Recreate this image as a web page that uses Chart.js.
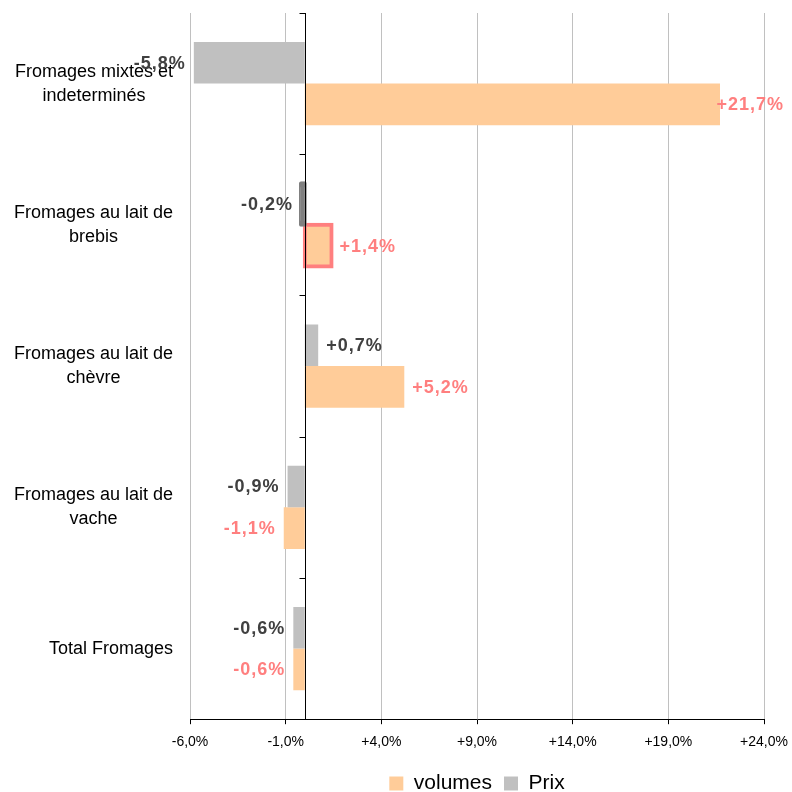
<!DOCTYPE html>
<html>
<head>
<meta charset="utf-8">
<script src="https://cdn.jsdelivr.net/npm/chart.js@4.4.1/dist/chart.umd.min.js"></script>
<style>
  html, body { margin: 0; padding: 0; background: #fff; }
  #wrap { width: 792px; height: 792px; }
</style>
</head>
<body>
<div id="wrap"><canvas id="chart"></canvas></div>
<script>
// ── DATA ─────────────────────────────────────────────
const categories = [
  ['Fromages mixtes et', 'indeterminés'],
  ['Fromages au lait de', 'brebis'],
  ['Fromages au lait de', 'chèvre'],
  ['Fromages au lait de', 'vache'],
  ['Total Fromages']
]
const prix = [-5.8, -0.2, 0.7, -0.9, -0.6]
const volumes = [21.7, 1.4, 5.2, -1.1, -0.6]
const xTicks = [-6, -1, 4, 9, 14, 19, 24]

const GREY = '#c0c0c0'
const DARK_GREY = '#808080'
const ORANGE = '#ffcc99'
const PINK = '#ff7f7f'
const LABEL_DARK = '#404040'

const fmt = v => (v > 0 ? '+' : '') + v.toFixed(1).replace('.', ',') + '%'

Chart.defaults.font.family = '"Liberation Sans", Arial, sans-serif'
Chart.defaults.color = '#000'

// zero line, category labels and value labels
const overlay = {
  id: 'overlay',
  afterDatasetsDraw(chart) {
    const { ctx, chartArea, scales: { x, y } } = chart
    const x0 = Math.round(x.getPixelForValue(0)) + 0.5
    ctx.save()
    ctx.strokeStyle = '#000'
    ctx.lineWidth = 1
    ctx.beginPath()
    ctx.moveTo(x0, chartArea.top)
    ctx.lineTo(x0, chartArea.bottom)
    for (let i = 0; i <= categories.length; i++) {
      const yy = Math.round(y.getPixelForValue(i - 0.5)) + 0.5
      ctx.moveTo(x0 - 6, yy)
      ctx.lineTo(x0, yy)
    }
    ctx.stroke()

    // category labels: block right-aligned, lines centred inside it
    ctx.font = '18px "Liberation Sans", Arial, sans-serif'
    ctx.fillStyle = '#000'
    ctx.textAlign = 'center'
    ctx.textBaseline = 'middle'
    const right = chartArea.left - 17
    categories.forEach((lines, i) => {
      const yc = y.getPixelForValue(i)
      const w = Math.max(...lines.map(l => ctx.measureText(l).width))
      lines.forEach((l, j) => {
        ctx.fillText(l, right - w / 2, yc + (j - (lines.length - 1) / 2) * 24)
      })
    })

    // value labels
    ctx.font = 'bold 18px "Liberation Sans", Arial, sans-serif'
    ctx.letterSpacing = '1px'
    ctx.textAlign = 'left'
    chart.data.datasets.forEach((ds, di) => {
      const meta = chart.getDatasetMeta(di)
      ctx.fillStyle = di === 0 ? LABEL_DARK : PINK
      meta.data.forEach((bar, i) => {
        const v = ds.data[i]
        const txt = fmt(v)
        const w = ctx.measureText(txt).width
        let left = v >= 0 ? bar.x + 8 : bar.x - 8 - w
        if (left + w > chart.width - 8) left = chart.width - 8 - w
        ctx.fillText(txt, left, bar.y + 1)
      })
    })
    ctx.restore()
  }
}

new Chart(document.getElementById('chart').getContext('2d'), {
  type: 'bar',
  data: {
    labels: categories,
    datasets: [{
      label: 'Prix',
      data: prix,
      backgroundColor: c => c.dataIndex === 1 ? DARK_GREY : GREY,
      borderColor: DARK_GREY,
      borderWidth: c => c.dataIndex === 1 ? 2 : 0,
      borderRadius: c => c.dataIndex === 1 ? 2 : 0,
      inflateAmount: c => c.dataIndex === 1 ? 2 : 'auto',
      borderSkipped: false
    }, {
      label: 'volumes',
      data: volumes,
      backgroundColor: ORANGE,
      borderColor: PINK,
      borderWidth: c => c.dataIndex === 1 ? 4 : 0,
      inflateAmount: c => c.dataIndex === 1 ? 2 : 'auto',
      borderSkipped: false
    }]
  },
  options: {
    indexAxis: 'y',
    responsive: true,
    maintainAspectRatio: false,
    animation: false,
    categoryPercentage: 0.59,
    barPercentage: 1,
    layout: { padding: { top: 13, right: 28, left: 0, bottom: -12 } },
    scales: {
      x: {
        min: -6,
        max: 24,
        afterBuildTicks: s => { s.ticks = xTicks.map(v => ({ value: v })) },
        afterFit: s => { s.paddingLeft = 0; s.paddingRight = 0 },
        ticks: {
          callback: v => fmt(v),
          font: { size: 14 },
          color: '#000',
          padding: 10,
          maxRotation: 0,
          autoSkip: false
        },
        grid: { color: GREY, tickColor: '#000', tickLength: 5 },
        border: { color: '#000', width: 1 }
      },
      y: {
        ticks: { display: false },
        grid: { display: false },
        border: { display: false },
        afterFit: s => { s.width = 190 }
      }
    },
    plugins: {
      legend: {
        position: 'bottom',
        fullSize: false,
        labels: {
          boxWidth: 14,
          boxHeight: 14,
          padding: 12,
          font: { size: 21 },
          color: '#000',
          sort: (a, b) => b.datasetIndex - a.datasetIndex
        }
      },
      tooltip: { enabled: false }
    }
  },
  plugins: [overlay]
})
</script>
</body>
</html>
